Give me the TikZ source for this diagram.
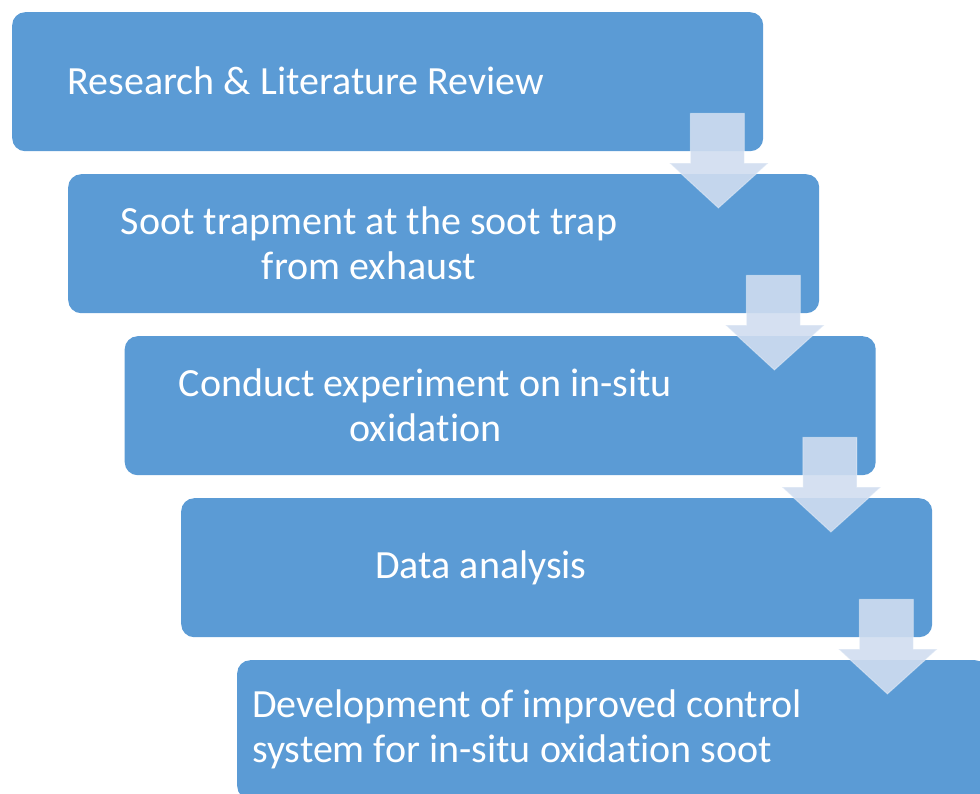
\documentclass[tikz,border=0pt]{standalone}
\usepackage{fontspec}
\setmainfont[Ligatures={NoCommon,NoContextual,NoRare}, RawFeature={-liga;-clig;-calt;-dlig}]{Carlito}
\usetikzlibrary{calc}
\definecolor{stepblue}{HTML}{5B9BD5}
\definecolor{arrowtint}{HTML}{D0DDF0}
% keep "t" and "i" as separate glyphs
\newcommand{\oxid}{oxida\kern0pt tion}
\tikzset{
  stepbox/.style={draw=none, fill=stepblue, rounded corners=13pt, anchor=north west,
    minimum width=751pt, minimum height=139pt, inner sep=0pt},
  steptext/.style={text=white, font=\fontsize{40}{45}\selectfont, align=center, inner sep=0pt},
  downarrow/.style={fill=arrowtint, fill opacity=0.9, draw=white, draw opacity=0.35, line width=1pt}
}
\begin{document}
\begin{tikzpicture}[x=1pt, y=-1pt]
  \useasboundingbox (0,0) rectangle (980,793);
  \clip (0,0) rectangle (980,793);

  % process steps, each shifted right and down
  \node[stepbox] (b1) at (12,12) {};
  \node[stepbox] (b2) at (68,174) {};
  \node[stepbox] (b3) at (124.5,336) {};
  \node[stepbox] (b4) at (181,498) {};
  \node[stepbox] (b5) at (237,660) {};

  \node[steptext] (t1) at ($(b1.west)+(294,-1)$) {Research \& Literature Review};
  \node[steptext] (t2) at ($(b2.west)+(301,0)$) {Soot trapment at the soot trap\\from exhaust};
  \node[steptext] (t3) at ($(b3.west)+(301,0)$) {Conduct experiment on in-situ\\\oxid};
  \node[steptext] (t4) at ($(b4.west)+(300,0)$) {Data analysis};
  \node[steptext, align=left, anchor=west] (t5) at ($(b5.west)+(15,0)$) {Development of improved control\\system for in-situ \oxid{} soot};

  % translucent down arrows linking consecutive steps
  \foreach \a/\b in {b1/b2, b2/b3, b3/b4, b4/b5}{
    \coordinate (L) at ($(\a.south east)+(-73,-38)$);
    \coordinate (H) at ($(\a.south east |- \b.north)+(-45,-11)$);
    \coordinate (T) at ($(\a.south east |- \b.north)+(-45,34)$);
    \draw[downarrow]
      (L) -- ++(54,0) |- ($(H)+(50,0)$) -- (T) -- ($(H)+(-49,0)$) -| (L) -- cycle;
  }
\end{tikzpicture}
\end{document}
